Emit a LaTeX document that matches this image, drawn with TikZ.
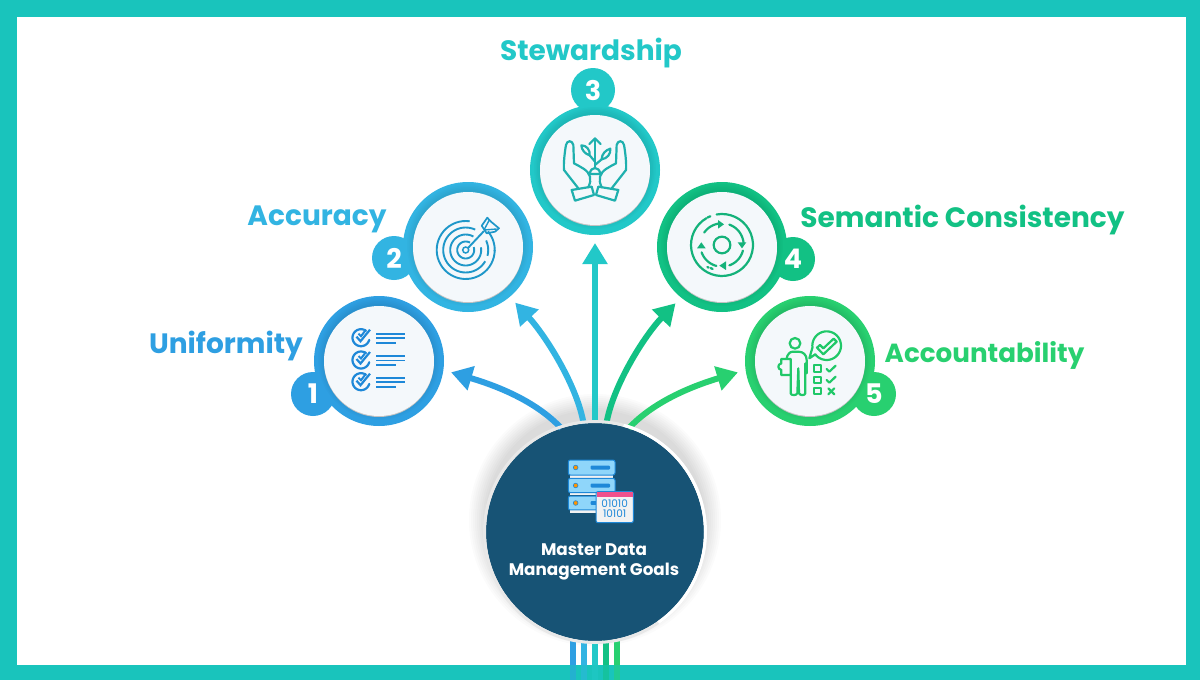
\documentclass[tikz,border=0pt]{standalone}
\usepackage{fontspec}
\setmainfont{Poppins}
\usetikzlibrary{arrows.meta,calc}
\definecolor{band}{HTML}{19C4BC}
\definecolor{cA}{HTML}{2E9FE2}
\definecolor{cB}{HTML}{32B4E2}
\definecolor{cC}{HTML}{22C8C8}
\definecolor{cD}{HTML}{12C184}
\definecolor{cE}{HTML}{28D070}
\definecolor{hubblue}{HTML}{175375}
\definecolor{disc}{HTML}{F4F8FB}
\definecolor{icA}{HTML}{1E88D8}
\definecolor{icB}{HTML}{1E97C9}
\definecolor{icC}{HTML}{1FB0AE}
\definecolor{icD}{HTML}{14B27A}
\definecolor{icE}{HTML}{20C868}
\definecolor{srv}{HTML}{8FD6FA}
\definecolor{winpink}{HTML}{F0508C}
\tikzset{
  ringnode/.style={circle,minimum size=130pt,inner sep=0pt,outer sep=0pt,fill=#1},
  discnode/.style={circle,minimum size=110pt,inner sep=0pt,outer sep=0pt,fill=disc},
  badge/.style={circle,minimum size=44pt,inner sep=0pt,outer sep=0pt,fill=#1,text=white,font=\fontsize{27}{27}\selectfont\bfseries},
  goal/.style={inner sep=0pt,text=#1,font=\fontsize{28}{30}\selectfont\bfseries},
  flow/.style={line width=6pt,draw=#1,-{Triangle[length=21pt,width=24pt,fill=#1]},shorten >=8pt},
}
\newcommand{\scrarc}[5]{plot[domain=#4:#5,samples=40] ({#1+#3*cos(\x)},{#2-#3*sin(\x)})}
\newcommand{\softring}[3]{% centre x, centre y, radius
  \foreach \d in {0,1.5,...,6}{\fill[black,opacity=.014] (#1,#2-2) circle[radius=#3+\d];}
  \fill[black!24] (#1,#2+1) circle[radius=#3];
}
\begin{document}
\begin{tikzpicture}[x=1pt,y=-1pt]
\useasboundingbox (0,0) rectangle (1200,680);
% frame
\fill[band] (0,0) rectangle (1200,680);
\fill[white] (17,17) rectangle (1186,665);

% hub shadow
\foreach \d in {0,2,...,16}{\fill[black,opacity=.016] (595,520) circle[radius=110+\d];}

% stripes below the hub
\foreach \sx/\sc in {570/cA,581/cB,592/cC,603/cD,614/cE}{
  \fill[\sc] (\sx,640) rectangle (\sx+6,665);
  \fill[\sc,opacity=.5] (\sx,665) rectangle (\sx+6,680);
}

% rings
\node[ringnode=cA] (r1) at (379,361) {};
\node[ringnode=cB] (r2) at (468,247) {};
\node[ringnode=cC] (r3) at (595,170) {};
\node[ringnode=cD] (r4) at (722,247) {};
\node[ringnode=cE] (r5) at (810,361) {};
% badges
\node[badge=cA] (b1) at (313,394) {1};
\node[badge=cB] (b2) at (394,258) {2};
\node[badge=cC] (b3) at (593,90) {3};
\node[badge=cD] (b4) at (793,259) {4};
\node[badge=cE] (b5) at (874,394) {5};
% discs
\softring{379}{361}{55}
\softring{468}{247}{55}
\softring{595}{170}{55}
\softring{722}{247}{55}
\softring{810}{361}{55}
\node[discnode] (d1) at (379,361) {};
\node[discnode] (d2) at (468,247) {};
\node[discnode] (d3) at (595,170) {};
\node[discnode] (d4) at (722,247) {};
\node[discnode] (d5) at (810,361) {};

% hub
\node[circle,minimum size=218pt,inner sep=0pt,outer sep=0pt,fill=hubblue] (hub) at (595,532) {};

% connectors
\draw[flow=cA] (hub.108) .. controls (535,400) and (494,385) .. (r1.-8);
\draw[flow=cB] (hub.96) .. controls (577,385) and (545,335) .. (r2.-50.6);
\draw[flow=cC] (hub.90) -- (r3.south);
\draw[flow=cD] (hub.84) .. controls (613,385) and (645,335) .. (r4.-129.4);
\draw[flow=cE] (hub.72) .. controls (655,400) and (696,385) .. (r5.188);
% hub rim, above the connector starts
\draw[black!9,line width=3pt] (595,532) circle[radius=110.5];
\draw[white,line width=3pt] \scrarc{595}{532}{110.5}{-55}{75};

% labels
\node[goal=cA] (t1) at (226,346) {Uniformity};
\node[goal=cB] (t2) at (317,219.5) {Accuracy};
\node[goal=cC] (t3) at (591,53.5) {Stewardship};
\node[goal=cD] (t4) at (962.5,219.5) {Semantic Consistency};
\node[goal=cE,font=\fontsize{26.2}{30}\selectfont\bfseries] (t5) at (984.5,355) {Accountability};
\node[align=center,text=white,inner sep=0pt,font=\fontsize{16.8}{20.5}\selectfont\bfseries] (t0) at (594,562) {Master Data\\Management Goals};

% icon 1: checklist
\begin{scope}[icA]
\foreach \ry in {337.7,360,381.7}{
  \draw[line width=2.2pt,line cap=round] \scrarc{361}{\ry}{8.5}{55}{345};
  \draw[line width=2.2pt,line join=miter] (356.5,\ry-1) -- (360.5,\ry+3.5) -- (370,\ry-8);
  \draw[line width=2pt,line join=miter] (358.5,\ry-4) -- (361,\ry-1.5) -- (366,\ry-8);
  \draw[line width=1.9pt] (376,\ry-4) -- (405,\ry-4);
  \draw[line width=1.9pt] (376,\ry+.5) -- (405,\ry+.5);
  \draw[line width=1.9pt] (376,\ry+5) -- (396,\ry+5);
}
\end{scope}

% icon 2: target
\begin{scope}[icB]
\draw[line width=1.9pt] \scrarc{465.7}{250}{29}{82}{360};
\draw[line width=1.9pt] \scrarc{465.7}{250}{29}{-2}{40};
\draw[line width=1.9pt] \scrarc{465.7}{250}{22.5}{65}{330};
\draw[line width=1.9pt] \scrarc{465.7}{250}{22.5}{345}{385};
\draw[line width=1.9pt] \scrarc{465.7}{250}{15.5}{60}{370};
\draw[line width=1.9pt] \scrarc{465.7}{250}{8.5}{60}{380};
\draw[line width=1.5pt] (465.7,250) circle[radius=3];
\draw[line width=1.9pt] (468,248) -- (484,231);
\draw[line width=1.7pt,line join=round] (481.7,225.7) -- (487.3,217.7) -- (491,221.7) -- (499,228.3) -- (495,231.7) -- (486.7,233.3) -- cycle;
\draw[line width=1.4pt] (484,230) -- (489.3,220);
\draw[line width=1.4pt] (484,230) -- (496.7,229);
\end{scope}

% icon 3: hands with plant
\begin{scope}[shift={(555pt,-130pt)},x=.3333pt,y=-.3333pt,icC,line width=2.2pt,line join=round,line cap=round]
\draw (70,175) -- (27,120) .. controls (25,100) and (30,60) .. (33,45) .. controls (36,30) and (52,30) .. (55,45) -- (57,100);
\draw (57,100) .. controls (75,110) and (100,120) .. (105,140) .. controls (108,150) and (105,160) .. (100,172);
\draw (50,180) -- (110,170) -- (117,195) -- (60,212) -- cycle;
\draw (170,175) -- (213,120) .. controls (215,100) and (210,60) .. (207,45) .. controls (204,30) and (188,30) .. (185,45) -- (183,100);
\draw (183,100) .. controls (165,110) and (140,120) .. (135,140) .. controls (132,150) and (135,160) .. (140,172);
\draw (190,180) -- (130,170) -- (123,195) -- (180,212) -- cycle;
\draw (120,112) -- (120,25);
\draw (103,42) -- (120,25) -- (137,42);
\draw (104,132) .. controls (106,120) and (112,114) .. (120,114) .. controls (128,114) and (134,120) .. (136,132) -- cycle;
\draw (120,95) -- (104,76);
\draw (104,76) .. controls (90,72) and (80,60) .. (79,46) .. controls (95,46) and (106,60) .. (104,76);
\draw (120,105) -- (140,88);
\draw (140,88) .. controls (140,72) and (152,60) .. (166,56) .. controls (168,72) and (156,86) .. (140,88);
\end{scope}

% icon 4: cycle
\begin{scope}[shift={(682pt,-205pt)},x=.3333pt,y=-.3333pt,icD,line width=2.2pt,line cap=round]
\draw \scrarc{120}{120}{93}{-240}{100};
\draw \scrarc{120}{120}{93}{112}{118};
\draw (86,189) -- (92,192);
\draw (76,186) -- (80,188);
\draw (120,120) circle[radius=25];
\draw \scrarc{120}{120}{65}{95}{145};
\draw \scrarc{120}{120}{65}{5}{70};
\draw \scrarc{120}{120}{65}{-70}{-15};
\draw \scrarc{120}{120}{65}{-160}{-105};
\fill (108,45) -- (126,58) -- (108,71) -- cycle;
\fill (167,112) -- (193,112) -- (180,130) -- cycle;
\fill (132,169) -- (132,195) -- (112,182) -- cycle;
\fill (45,130) -- (71,130) -- (58,112) -- cycle;
\end{scope}

% icon 5: person with checklist
\begin{scope}[shift={(770pt,-325pt)},x=.3333pt,y=-.3333pt,icE,line width=2.2pt,line cap=round,line join=round]
\draw (75,55) circle[radius=16];
\draw (50,100) .. controls (52,88) and (60,80) .. (68,80) -- (85,80) .. controls (100,80) and (110,90) .. (110,105) -- (110,145) ;
\draw (62,150) -- (62,205) .. controls (62,212) and (80,212) .. (82,205) -- (85,130) -- (87,205) .. controls (90,212) and (105,212) .. (106,205) -- (106,115);
\draw (34,102) -- (62,102) -- (62,150) -- (34,150) -- (34,135) .. controls (22,132) and (22,118) .. (34,115) -- cycle;
\draw \scrarc{170}{62}{43}{-142}{188};
\draw (127,69) -- (118,100) -- (136,88);
\draw (141,68) -- (160,88) -- (200,50) -- (191,41) -- (160,70) -- (150,60) -- cycle;
\draw (133,120) rectangle (152,140);
\draw (133,155) rectangle (152,175);
\draw (133,190) rectangle (152,208);
\draw (170,132) -- (178,140) -- (197,122);
\draw (170,165) -- (178,173) -- (197,155);
\draw (175,190) -- (193,208);
\draw (193,190) -- (175,208);
\end{scope}

% hub icon
\begin{scope}[shift={(560pt,-455pt)},x=.3333pt,y=-.3333pt]
\foreach \ty/\by in {15/60,70/113,123/165}{
  \fill[black!5] (30,\by) rectangle (160,\by+8);
  \draw[icA,fill=srv,line width=1pt,rounded corners=2pt] (25,\ty) rectangle (165,\by);
  \fill[orange!85!yellow] (47,{(\ty+\by)/2}) circle[radius=7];
  \draw[icA,line width=.6pt] (47,{(\ty+\by)/2}) circle[radius=7];
  \fill[icA,rounded corners=1pt] (92,{(\ty+\by)/2-6}) rectangle (150,{(\ty+\by)/2+6});
}
\draw[icA,fill=black!5,line width=1pt,rounded corners=2pt] (108,110) rectangle (220,203);
\fill[winpink] (110,111) rectangle (218,125);
\node[inner sep=0pt,text=icA,align=center,font=\fontsize{10.5}{10}\selectfont] (bits) at (164,162) {01010\\10101};
\end{scope}
\end{tikzpicture}
\end{document}
